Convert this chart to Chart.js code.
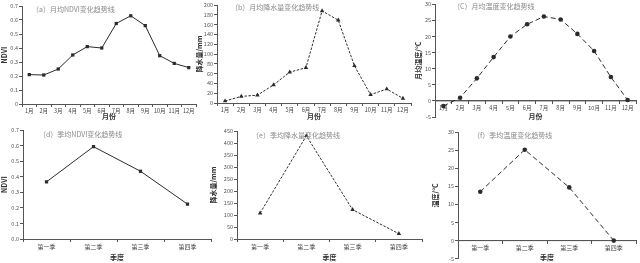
<!DOCTYPE html>
<html>
<head>
<meta charset="utf-8">
<script src="https://cdn.jsdelivr.net/npm/chart.js@4"></script>
<style>
  html, body { margin: 0; padding: 0; background: #fff; }
  #wrap { position: relative; width: 640px; height: 263px; overflow: hidden; }
  #wrap canvas { position: absolute; }
</style>
</head>
<body>
<div id="wrap"></div>
<script>
const months = ['1月', '2月', '3月', '4月', '5月', '6月', '7月', '8月', '9月', '10月', '11月', '12月']
const seasons = ['第一季', '第二季', '第三季', '第四季']

const ndviMonthly = [0.21, 0.207, 0.25, 0.35, 0.41, 0.40, 0.575, 0.63, 0.56, 0.345, 0.29, 0.26]
const rainMonthly = [4, 13.5, 16, 37, 63, 72, 188, 169, 76, 17, 28.5, 9.5]
const tempMonthly = [-1.6, 1.0, 7.0, 13.6, 20.0, 23.8, 26.2, 25.3, 20.8, 15.5, 7.4, 0.3]

const ndviSeason = [0.367, 0.593, 0.435, 0.224]
const rainSeason = [108, 430, 122, 22]
const tempSeason = [13.5, 25.1, 14.7, 0]

// 0 °C baseline of the temperature panels, across the whole plot width
const zeroBaseline = [{ x: 0, y: 0 }, { x: 1, y: 0 }]

const FONT = '"Noto Sans CJK SC", "Noto Sans", sans-serif'
const INK = '#2b2b2b'
const AXIS = '#555'

// caption inside the plot area, e.g. "（a）月均NDVI变化趋势线"
const captionPlugin = {
  id: 'panelCaption',
  afterDraw: (chart) => {
    const o = chart.options.plugins.caption
    if (!o || !o.text) return
    const { ctx, chartArea } = chart
    ctx.save()
    ctx.font = `7px ${FONT}`
    ctx.fillStyle = '#8a8a8a'
    ctx.textBaseline = 'middle'
    ctx.fillText(o.text, chartArea.left + o.dx, chartArea.top + o.dy)
    ctx.restore()
  }
}

const makePanel = (p) => {
  const canvas = document.createElement('canvas')
  canvas.style.left = p.left + 'px'
  canvas.style.top = p.top + 'px'
  canvas.style.width = p.width + 'px'
  canvas.style.height = p.height + 'px'
  canvas.width = p.width
  canvas.height = p.height
  document.querySelector('#wrap').appendChild(canvas)

  const xAxis = {
    type: 'category',
    offset: true,
    border: { color: AXIS, width: 1 },
    grid: { display: true, drawOnChartArea: false, offset: true, tickLength: 3, color: AXIS },
    ticks: { font: { family: FONT, size: p.xFont }, color: '#444', padding: 1, maxRotation: 0, autoSkip: false },
    title: { display: true, text: p.xTitle, font: { family: FONT, size: 7, weight: 'bold' }, color: '#333', padding: { top: 0, bottom: 1 } },
  }
  if (p.xAtZero) {
    xAxis.position = { y: 0 }
  } else {
    xAxis.afterFit = (s) => { s.height = p.xHeight }
  }

  const datasets = [{
    data: p.data,
    borderColor: INK,
    backgroundColor: INK,
    borderWidth: 1,
    borderDash: p.dash,
    pointStyle: p.marker,
    pointRadius: p.marker === 'triangle' ? 2.6 : 2.3,
    pointBorderWidth: 0,
    tension: 0,
    order: 0,
  }]
  const scales = {
    x: xAxis,
    y: {
      min: p.yMin,
      max: p.yMax,
      border: { color: AXIS, width: 1 },
      grid: { display: true, drawOnChartArea: false, tickLength: 3, color: AXIS },
      ticks: {
        stepSize: p.yStep,
        font: { family: FONT, size: 5.5 },
        color: '#555',
        padding: 1,
        callback: p.yFormat,
      },
      title: { display: true, text: p.yTitle, font: { family: FONT, size: 7, weight: 'bold' }, color: '#333', padding: 0 },
      afterFit: (s) => { s.width = p.yWidth },
    }
  }
  if (p.xAtZero) {
    datasets.push({
      data: zeroBaseline,
      xAxisID: 'xBase',
      borderColor: AXIS,
      borderWidth: 1,
      pointRadius: 0,
      tension: 0,
      order: 1,
    })
    scales.xBase = { type: 'linear', display: false, min: 0, max: 1 }
  }

  return new Chart(canvas, {
    type: 'line',
    data: { labels: p.labels, datasets },
    options: {
      responsive: false,
      animation: false,
      devicePixelRatio: 1,
      layout: { padding: p.padding },
      plugins: {
        legend: { display: false },
        tooltip: { enabled: false },
        caption: { text: p.caption, dx: p.capDx, dy: p.capDy },
      },
      scales,
    },
    plugins: [captionPlugin]
  })
}

makePanel({
  left: 0, top: 0, width: 200, height: 122, yWidth: 22, xHeight: 18,
  padding: { top: 6, right: 3, bottom: 0, left: 0 },
  labels: months, data: ndviMonthly, marker: 'rect', dash: [],
  yMin: 0, yMax: 0.7, yStep: 0.1, yFormat: (v) => v === 0 ? '0' : v.toFixed(1),
  xTitle: '月份', yTitle: 'NDVI', xFont: 5.5,
  caption: '（a）月均NDVI变化趋势线', capDx: 10, capDy: 3,
})

makePanel({
  left: 195, top: 0, width: 220, height: 122, yWidth: 22, xHeight: 19,
  padding: { top: 5, right: 3, bottom: 0, left: 0 },
  labels: months, data: rainMonthly, marker: 'triangle', dash: [2.5, 1.5],
  yMin: 0, yMax: 200, yStep: 20, yFormat: (v) => v,
  xTitle: '月份', yTitle: '降水量/mm', xFont: 5.5,
  caption: '（b）月均降水量变化趋势线', capDx: 14, capDy: 2,
})

makePanel({
  left: 414, top: 0, width: 226, height: 122, yWidth: 21, xAtZero: true,
  padding: { top: 4, right: 3, bottom: 5, left: 0 },
  labels: months, data: tempMonthly, marker: 'circle', dash: [5, 3],
  yMin: -5, yMax: 30, yStep: 5, yFormat: (v) => v,
  xTitle: '月份', yTitle: '月均温度/°C', xFont: 5.5,
  caption: '（C）月均温度变化趋势线', capDx: 18, capDy: 2,
})

makePanel({
  left: 0, top: 122, width: 215, height: 141, yWidth: 23, xHeight: 24,
  padding: { top: 8, right: 3, bottom: 0, left: 0 },
  labels: seasons, data: ndviSeason, marker: 'rect', dash: [],
  yMin: 0, yMax: 0.7, yStep: 0.1, yFormat: (v) => v.toFixed(1),
  xTitle: '季度', yTitle: 'NDVI', xFont: 6,
  caption: '（d）季均NDVI变化趋势线', capDx: 16, capDy: 4,
})

makePanel({
  left: 209, top: 122, width: 217, height: 141, yWidth: 28, xHeight: 24,
  padding: { top: 9, right: 3, bottom: 0, left: 0 },
  labels: seasons, data: rainSeason, marker: 'triangle', dash: [2.5, 1.5],
  yMin: 0, yMax: 450, yStep: 50, yFormat: (v) => v,
  xTitle: '季度', yTitle: '降水量/mm', xFont: 6,
  caption: '（e）季均降水量变化趋势线', capDx: 15, capDy: 4,
})

makePanel({
  left: 431, top: 122, width: 209, height: 141, yWidth: 27, xAtZero: true,
  padding: { top: 10, right: 1, bottom: 2, left: 0 },
  labels: seasons, data: tempSeason, marker: 'circle', dash: [5, 3],
  yMin: -5, yMax: 30, yStep: 5, yFormat: (v) => v,
  xTitle: '季度', yTitle: '温度/°C', xFont: 6,
  caption: '（f）季均温度变化趋势线', capDx: 15, capDy: 3,
})
</script>
</body>
</html>
